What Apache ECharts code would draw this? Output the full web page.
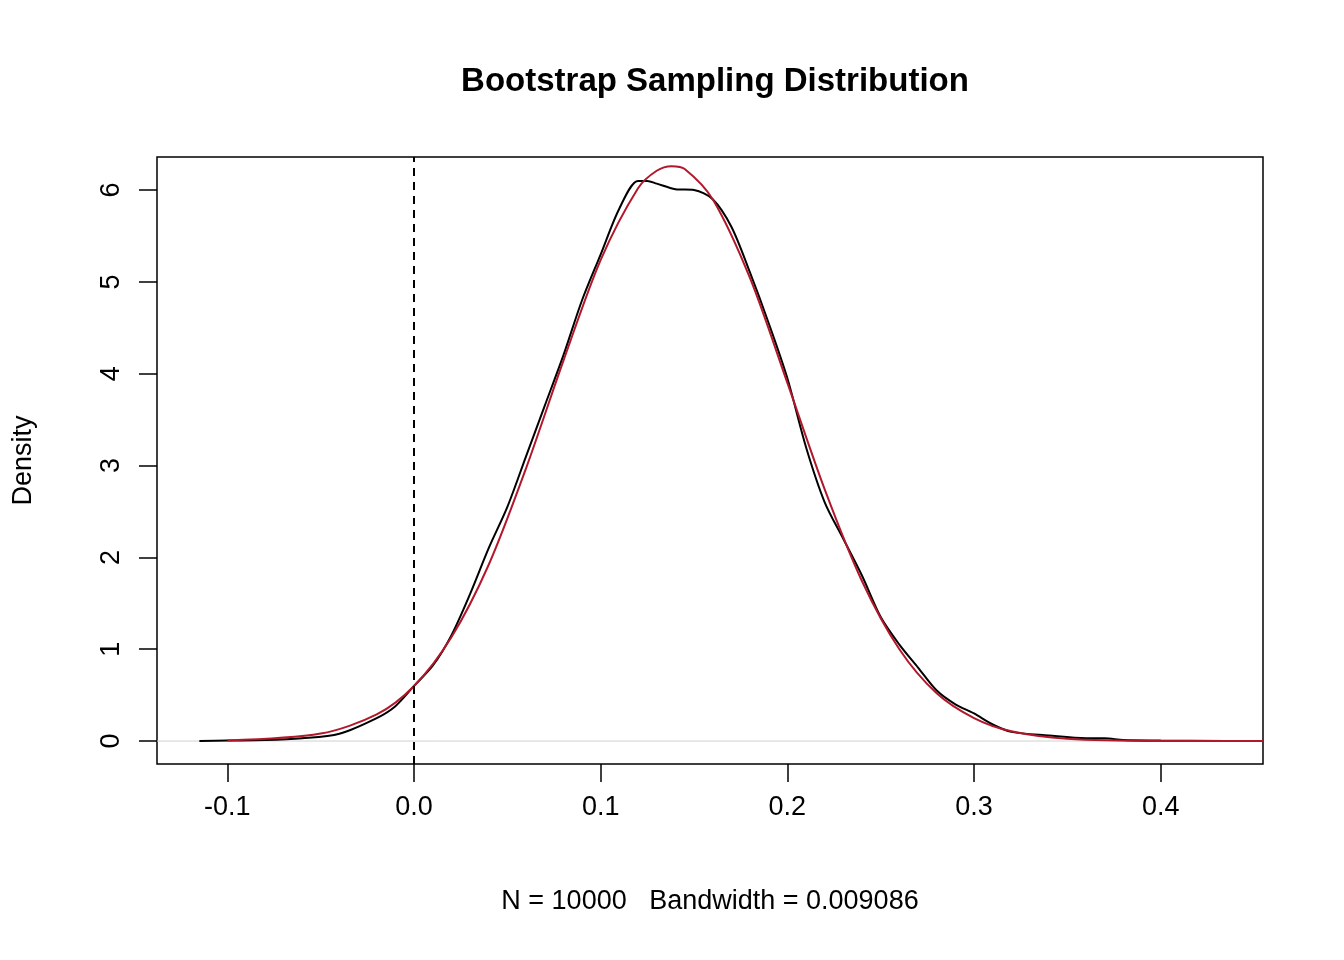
<!DOCTYPE html>
<html><head><meta charset="utf-8">
<script src="https://cdn.jsdelivr.net/npm/echarts@6/dist/echarts.min.js"></script>
<style>html,body{margin:0;padding:0;background:#fff}#c{width:1344px;height:960px}</style>
</head><body><div id="c"></div>
<script>
const kdeX = [-0.115,-0.1,-0.08,-0.06,-0.04,-0.02,-0.01,0,0.01,0.02,0.03,0.04,0.05,0.06,0.07,0.08,0.09,0.1,0.11,0.12,0.125,0.13,0.14,0.15,0.16,0.17,0.18,0.19,0.2,0.21,0.22,0.23,0.24,0.25,0.26,0.27,0.28,0.29,0.3,0.31,0.32,0.34,0.36,0.37,0.38,0.4,0.435];
const kdeY = [0,0.005,0.01,0.03,0.08,0.25,0.38,0.6,0.82,1.15,1.6,2.1,2.55,3.1,3.65,4.2,4.8,5.3,5.8,6.1,6.1,6.07,6.01,6.0,5.9,5.6,5.1,4.55,3.95,3.2,2.6,2.2,1.8,1.35,1.05,0.8,0.55,0.4,0.3,0.18,0.1,0.06,0.03,0.03,0.01,0.005,0];
const normX = [-0.1,-0.05,-0.02,0,0.02,0.04,0.06,0.08,0.1,0.12,0.13,0.138,0.145,0.16,0.18,0.2,0.22,0.24,0.26,0.28,0.3,0.32,0.35,0.4,0.455];
const normY = [0.006,0.081,0.29,0.6,1.13,1.92,2.97,4.14,5.24,6.02,6.21,6.26,6.23,5.9,5.04,3.9,2.74,1.74,1.0,0.52,0.25,0.106,0.025,0.001,0];
const xTicks = [-0.1,0,0.1,0.2,0.3,0.4];
const yTicks = [0,1,2,3,4,5,6];
const font = 'Liberation Sans, Arial, sans-serif';
const chart = echarts.init(document.getElementById('c'));
chart.setOption({
  animation:false,
  title:{text:'Bootstrap Sampling Distribution',left:710,textAlign:'center',top:60,textStyle:{fontFamily:font,fontSize:33,fontWeight:'bold',color:'#000'}},
  grid:{left:157,right:81,top:157,bottom:196,show:true,borderColor:'#000',borderWidth:1.5},
  xAxis:{type:'value',min:-0.1377,max:0.4548,
    name:'N = 10000   Bandwidth = 0.009086',nameLocation:'middle',nameGap:124,
    nameTextStyle:{fontFamily:font,fontSize:27,color:'#000'},
    axisLine:{show:false,onZero:false},splitLine:{show:false},
    axisTick:{show:true,inside:false,length:18,customValues:xTicks,lineStyle:{color:'#000',width:1.5}},
    axisLabel:{customValues:xTicks,margin:30,fontFamily:font,fontSize:27,color:'#000',formatter:v=>v.toFixed(1)}},
  yAxis:{type:'value',min:-0.25,max:6.36,
    name:'Density',nameLocation:'middle',nameGap:120,nameRotate:90,
    nameTextStyle:{fontFamily:font,fontSize:27,color:'#000'},
    axisLine:{show:false,onZero:false},splitLine:{show:false},
    axisTick:{show:true,inside:false,length:18,customValues:yTicks,lineStyle:{color:'#000',width:1.5}},
    axisLabel:{customValues:yTicks,rotate:90,margin:32,fontFamily:font,fontSize:27,color:'#000',formatter:v=>String(v)}},
  series:[
    {type:'line',data:[[-0.1377,0],[0.4548,0]],symbol:'none',silent:true,lineStyle:{color:'#d0d0d0',width:1}},
    {type:'line',data:kdeX.map((x,i)=>[x,kdeY[i]]),symbol:'none',smooth:0.3,lineStyle:{color:'#000',width:2},
      markLine:{silent:true,symbol:'none',label:{show:false},lineStyle:{color:'#000',type:[8,6],width:2},data:[{xAxis:0}]}},
    {type:'line',data:normX.map((x,i)=>[x,normY[i]]),symbol:'none',smooth:0.3,lineStyle:{color:'#b2182b',width:2}}
  ]
});
</script></body></html>
